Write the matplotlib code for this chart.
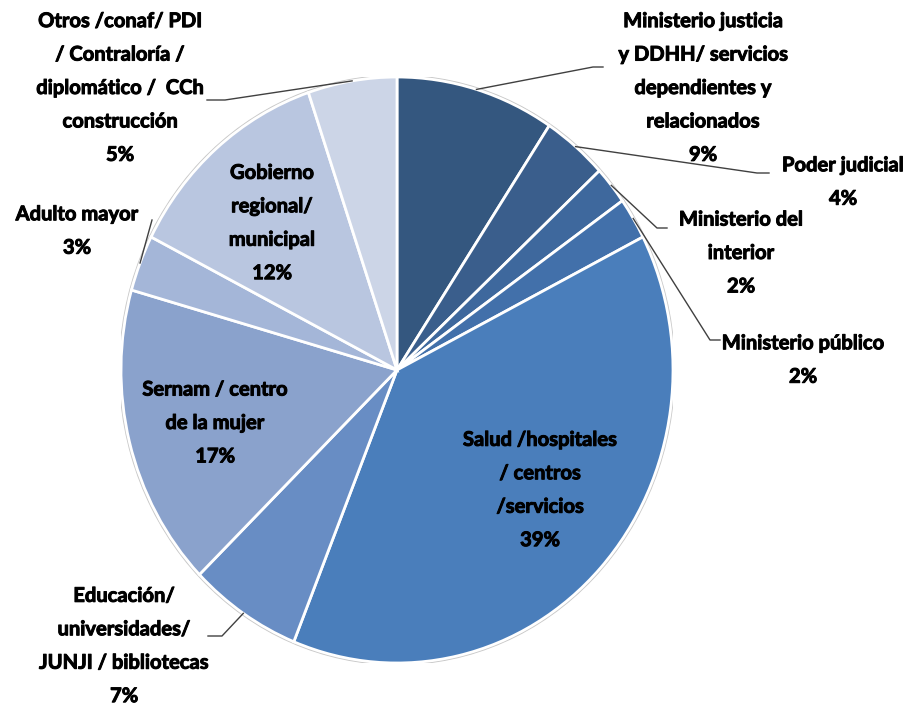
import numpy as np
import matplotlib
matplotlib.use("Agg")
import matplotlib.pyplot as plt
import matplotlib.patheffects as pe
from matplotlib.patches import Ellipse

# slices, clockwise from 12 o'clock
names = [
    "Ministerio justicia\ny DDHH/ servicios\ndependientes y\nrelacionados",
    "Poder judicial",
    "Ministerio del\ninterior",
    "Ministerio público",
    "Salud /hospitales\n/ centros\n/servicios",
    "Educación/\nuniversidades/\nJUNJI / bibliotecas",
    "Sernam / centro\nde la mujer",
    "Adulto mayor",
    "Gobierno\nregional/\nmunicipal",
    "Otros /conaf/ PDI\n/ Contraloría /\ndiplomático /  CCh\nconstrucción",
]
values = [9.3, 3.8, 2.1, 2.3, 38.6, 6.6, 16.7, 3.1, 12.3, 5.2]
colors = ["#34577F", "#3A5E8C", "#3E689D", "#4270AA", "#4A7EBB",
          "#688DC4", "#8AA2CC", "#A4B6D8", "#B9C6E0", "#CCD5E7"]

W, H = 914, 708
fig = plt.figure(figsize=(W / 100, H / 100), dpi=100)
# pie is drawn as a slightly tall ellipse (stretched Excel chart)
cx, cy, rx, ry = 397, 370, 276, 293
ax = fig.add_axes([(cx - rx) / W, (H - cy - ry) / H, 2 * rx / W, 2 * ry / H])

wedges, _ = ax.pie(values, colors=colors, startangle=90, counterclock=False,
                   radius=1, wedgeprops=dict(edgecolor="white", linewidth=2))
ax.add_patch(Ellipse((0, 0), 2.01, 2.01, facecolor="none",
                     edgecolor="#C8C8C8", linewidth=1.2, zorder=0))
ax.set_aspect("auto")
ax.set_xlim(-1, 1)
ax.set_ylim(-1, 1)
ax.axis("off")


def px(x, y):
    # pixel position -> data position of the pie axes
    return (x - cx) / rx, (cy - y) / ry


# label centre (pixels) and optional leader elbow / end (pixels)
label_pos = [(703, 88), (843, 182), (741, 253), (803, 360), (540, 490),
             (124, 646), (215, 423), (77, 231), (272, 223), (120, 88)]
leaders = {
    0: [(593, 67), (603, 67)],
    1: [(757, 173), (769, 173)],
    2: [(657, 228), (667, 228)],
    3: [(710, 340), (720, 340)],
    5: [(222, 636), (208, 636)],
    7: [(152, 220)],
    9: [(225, 100), (207, 100)],
}

font = dict(family=["Lato", "DejaVu Sans"], fontweight="bold", fontsize=14.5,
            color="black", ha="center", va="center", linespacing=1.84,
            path_effects=[pe.withStroke(linewidth=0.7, foreground="black")])

for i, (name, v) in enumerate(zip(names, values)):
    x, y = px(*label_pos[i])
    ax.text(x, y, f"{name}\n{round(v)}%", **font)
    if i in leaders:
        w = wedges[i]
        th = np.deg2rad((w.theta1 + w.theta2) / 2)
        pts = [(np.cos(th), np.sin(th))] + [px(*p) for p in leaders[i]]
        xs, ys = zip(*pts)
        ax.plot(xs, ys, color="#404040", linewidth=1, clip_on=False)

fig.savefig("out.png", dpi=100, facecolor="white")
